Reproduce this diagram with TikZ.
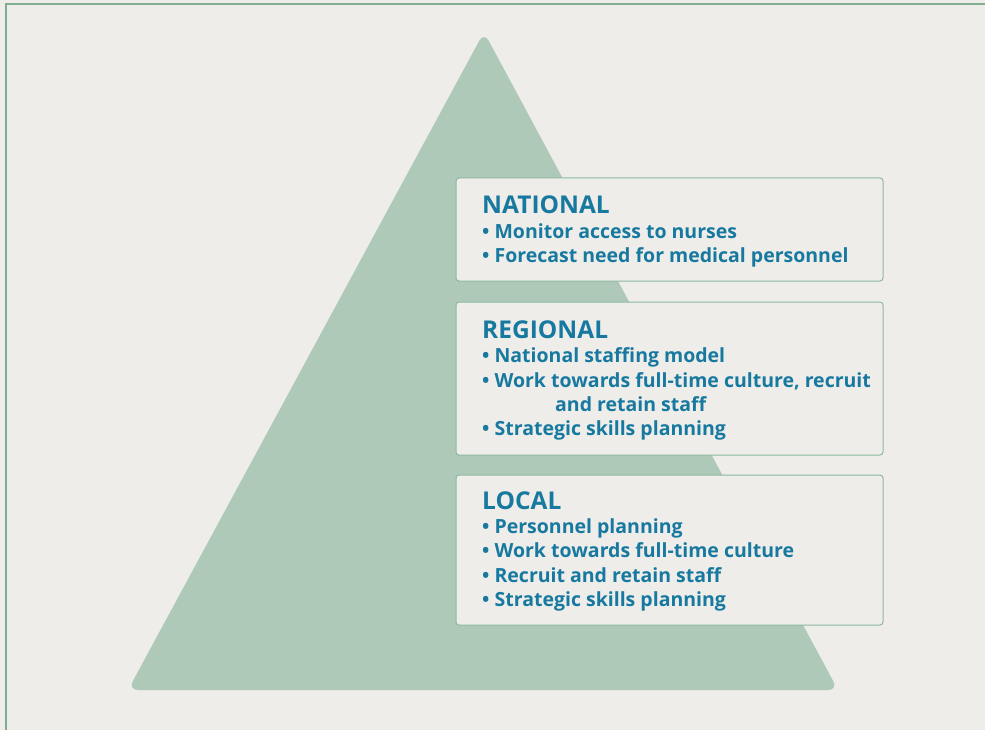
\documentclass[tikz,border=0pt]{standalone}
\usepackage{fontspec}
\setmainfont{Open Sans}
\definecolor{bg}{HTML}{EEEDE9}
\definecolor{frame}{HTML}{7FAE8E}
\definecolor{tri}{HTML}{AEC9B8}
\definecolor{boxfill}{HTML}{EEEDEA}
\definecolor{boxline}{HTML}{8DB99F}
\definecolor{txt}{HTML}{17799F}
\tikzset{
  levelbox/.style={draw=boxline, fill=boxfill, line width=1pt, rounded corners=3pt},
  head/.style={anchor=base west, inner sep=0pt, text=txt, font=\fontsize{24.5}{28}\selectfont\bfseries},
  item/.style={anchor=base west, inner sep=0pt, text=txt, font=\fontsize{19.5}{22}\selectfont\bfseries},
}
\begin{document}
\begin{tikzpicture}[x=1pt,y=-1pt]
\useasboundingbox (0,0) rectangle (985,730);
\fill[bg] (0,0) rectangle (985,730);
\draw[frame, line width=1.8pt] (6,730) -- (6,4) -- (985,4);
\fill[tri, rounded corners=10pt] (484,32) -- (838,690) -- (128,690) -- cycle;
% boxes
\draw[levelbox] (456,178) rectangle (883,281);
\draw[levelbox] (456,302) rectangle (883,455);
\draw[levelbox] (456,475) rectangle (883,625);
% national
\node[head] (nh) at (482,214) {NATIONAL};
\node[item] (n1) at (482,238) {• Monitor access to nurses};
\node[item] (n2) at (482,262) {• Forecast need for medical personnel};
% regional
\node[head] (rh) at (482,338) {REGIONAL};
\node[item] (r1) at (482,362) {• National staffing model};
\node[item] (r2) at (482,387) {• Work towards full-time culture, recruit};
\node[item] (r3) at (555,411) {and retain staff};
\node[item] (r4) at (482,435) {• Strategic skills planning};
% local
\node[head] (lh) at (482,509) {LOCAL};
\node[item] (l1) at (482,533) {• Personnel planning};
\node[item] (l2) at (482,557) {• Work towards full-time culture};
\node[item] (l3) at (482,582) {• Recruit and retain staff};
\node[item] (l4) at (482,606) {• Strategic skills planning};
\end{tikzpicture}
\end{document}
